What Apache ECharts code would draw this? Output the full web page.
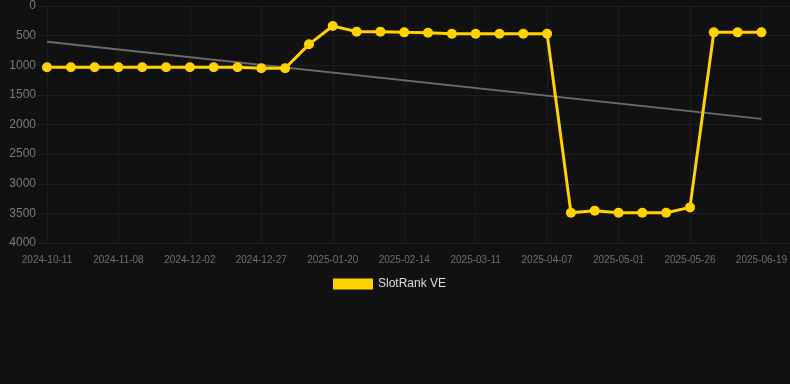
<!DOCTYPE html>
<html>
<head>
<meta charset="utf-8">
<script src="https://cdn.jsdelivr.net/npm/echarts@6/dist/echarts.min.js"></script>
<style>
html,body{margin:0;padding:0;background:#111111;}
#chart{width:790px;height:384px;}
</style>
</head>
<body>
<div id="chart"></div>
<script>
// 日期（类目）
var dates = ['2024-10-11','2024-10-20','2024-10-29','2024-11-08','2024-11-16','2024-11-24',
    '2024-12-02','2024-12-10','2024-12-19','2024-12-27','2025-01-04','2025-01-12',
    '2025-01-20','2025-01-28','2025-02-06','2025-02-14','2025-02-22','2025-03-03',
    '2025-03-11','2025-03-19','2025-03-29','2025-04-07','2025-04-15','2025-04-23',
    '2025-05-01','2025-05-09','2025-05-17','2025-05-26','2025-06-03','2025-06-11','2025-06-19'];
// 排名
var rankValues = [1035,1035,1035,1035,1035,1035,1035,1035,1035,1050,1050,647,
    338,433,433,445,450,467,467,467,467,467,3488,3454,3488,3488,3488,3399,445,445,445];
// 趋势线两端
var trendStart = 605;
var trendEnd = 1905;

var myChart = echarts.init(document.getElementById('chart'));
var gridTop = 6, gridBottom = 141;
var option = {
    backgroundColor: '#111111',
    animation: false,
    legend: {
        data: [{name: 'SlotRank VE', icon: 'rect'}],
        top: 273,
        left: 328,
        itemWidth: 40,
        itemHeight: 11,
        itemGap: 6,
        textStyle: {color: '#dddddd', fontSize: 12, fontFamily: 'Liberation Sans, Arial, sans-serif'}
    },
    grid: [
        {left: 38, right: 0, top: gridTop, bottom: gridBottom},
        {left: 47, right: 28, top: gridTop, bottom: gridBottom}
    ],
    xAxis: [
        {gridIndex: 0, type: 'value', show: false, min: 0, max: 1},
        {
            gridIndex: 1, type: 'category', data: dates, boundaryGap: false,
            axisLine: {show: false},
            axisTick: {show: true, interval: 2, length: 9, lineStyle: {color: '#1d1d1d'}},
            axisLabel: {
                interval: 2, color: '#6f6f6f', fontSize: 10, margin: 12,
                fontFamily: 'Liberation Sans, Arial, sans-serif'
            },
            splitLine: {show: true, interval: 2, lineStyle: {color: '#1d1d1d', width: 1}}
        }
    ],
    yAxis: [
        {
            gridIndex: 0, type: 'value', inverse: true, min: 0, max: 4000, interval: 500,
            axisLine: {show: false}, axisTick: {show: false},
            axisLabel: {color: '#7a7a7a', fontSize: 12, margin: 2,
                fontFamily: 'Liberation Sans, Arial, sans-serif',
                formatter: function (v) { return String(v); }},
            splitLine: {lineStyle: {color: '#1f1f1f', width: 1}}
        },
        {
            gridIndex: 1, type: 'value', inverse: true, min: 0, max: 4000, interval: 500,
            show: false, splitLine: {show: false}
        }
    ],
    series: [
        {
            name: 'trend', type: 'line', xAxisIndex: 1, yAxisIndex: 1,
            data: [[dates[0], trendStart], [dates[dates.length - 1], trendEnd]],
            symbol: 'none',
            lineStyle: {color: '#6b6b6b', width: 2},
            z: 1
        },
        {
            name: 'SlotRank VE', type: 'line', xAxisIndex: 1, yAxisIndex: 1,
            data: rankValues,
            symbol: 'circle', symbolSize: 10,
            itemStyle: {color: '#ffd200'},
            lineStyle: {color: '#ffd200', width: 3},
            z: 3
        }
    ]
};
myChart.setOption(option);
</script>
</body>
</html>
